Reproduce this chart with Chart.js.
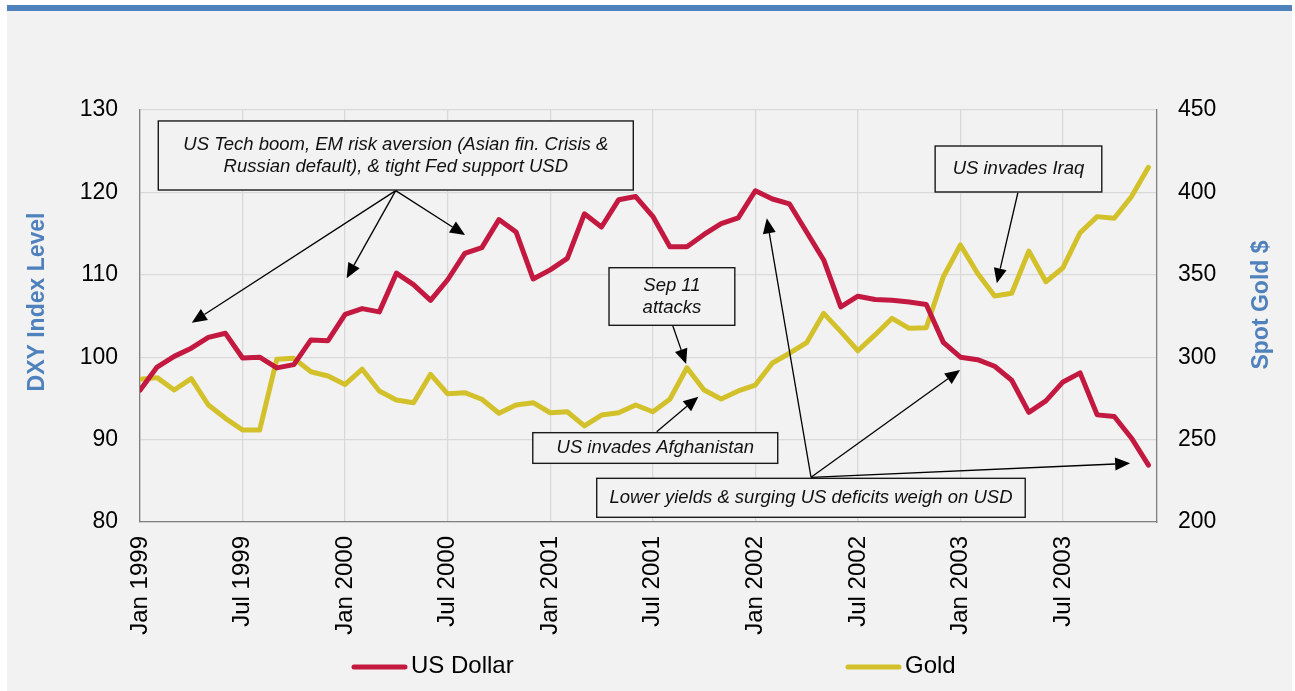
<!DOCTYPE html>
<html><head><meta charset="utf-8">
<script src="https://cdn.jsdelivr.net/npm/chart.js@4.4.1/dist/chart.umd.min.js"></script>
<style>
html,body{margin:0;padding:0;background:#fff;width:1295px;height:691px;overflow:hidden}
#bg{position:absolute;left:7px;top:5px;width:1285px;height:686px;background:#f2f2f2;border-top:6px solid #4f81bd;box-sizing:border-box}
#c{position:absolute;left:0;top:0}
</style></head><body><div id="bg"></div><canvas id="c" width="1295" height="691"></canvas>
<script>
const months = [
 "Jan 1999","Feb 1999","Mar 1999","Apr 1999","May 1999","Jun 1999","Jul 1999","Aug 1999","Sep 1999","Oct 1999","Nov 1999","Dec 1999",
 "Jan 2000","Feb 2000","Mar 2000","Apr 2000","May 2000","Jun 2000","Jul 2000","Aug 2000","Sep 2000","Oct 2000","Nov 2000","Dec 2000",
 "Jan 2001","Feb 2001","Mar 2001","Apr 2001","May 2001","Jun 2001","Jul 2001","Aug 2001","Sep 2001","Oct 2001","Nov 2001","Dec 2001",
 "Jan 2002","Feb 2002","Mar 2002","Apr 2002","May 2002","Jun 2002","Jul 2002","Aug 2002","Sep 2002","Oct 2002","Nov 2002","Dec 2002",
 "Jan 2003","Feb 2003","Mar 2003","Apr 2003","May 2003","Jun 2003","Jul 2003","Aug 2003","Sep 2003","Oct 2003","Nov 2003","Dec 2003"
];
const tickLabels = ["Jan 1999","Jul 1999","Jan 2000","Jul 2000","Jan 2001","Jul 2001","Jan 2002","Jul 2002","Jan 2003","Jul 2003"];
const usDollar = [96.0, 98.8, 100.1, 101.1, 102.4, 102.9, 99.9, 100.0, 98.7, 99.1,
 102.1, 102.0, 105.2, 105.9, 105.5, 110.2, 108.8, 106.9, 109.4, 112.6,
 113.3, 116.7, 115.2, 109.5, 110.6, 112.0, 117.4, 115.8, 119.1, 119.5,
 117.1, 113.4, 113.4, 114.9, 116.2, 116.9, 120.2, 119.2, 118.6, 115.2,
 111.8, 106.1, 107.4, 107.0, 106.9, 106.7, 106.4, 101.8, 100.0, 99.7,
 98.9, 97.2, 93.3, 94.7, 97.0, 98.1, 93.0, 92.8, 90.2, 86.9];
const gold = [286.6, 287.6, 280.1, 287.0, 271.0, 262.9, 255.8, 255.8, 298.7, 299.3,
 291.2, 288.6, 283.5, 292.7, 279.5, 274.0, 272.4, 289.6, 277.8, 278.5,
 274.5, 266.0, 271.0, 272.4, 266.3, 266.9, 258.3, 264.9, 266.3, 271.0,
 266.9, 274.5, 293.6, 280.1, 274.6, 279.5, 283.1, 296.5, 302.4, 308.8,
 326.6, 315.5, 303.9, 313.5, 323.6, 317.5, 317.9, 348.8, 368.1, 350.9,
 337.1, 338.8, 364.4, 345.8, 354.3, 375.5, 385.3, 384.3, 397.4, 415.2];

// annotations in data units: x = month index, y = DXY level
const notes = [
 {lines:["US Tech boom, EM risk aversion (Asian fin. Crisis &","Russian default), & tight Fed support USD"],
  box:[1.07,128.67,28.86,120.29], tail:[14.96,120.21], tips:[[3.03,104.19],[12.09,109.58],[19.02,114.83]]},
 {lines:["Sep 11","attacks"], box:[27.44,110.86,34.80,103.87], tail:[31.16,103.87], tips:[[31.95,99.17]]},
 {lines:["US invades Afghanistan"], box:[22.98,90.84,37.31,87.12], tail:[30.23,90.96], tips:[[32.67,95.21]]},
 {lines:["Lower yields & surging US deficits weigh on USD"], box:[26.72,85.30,51.79,80.57], tail:[39.26,85.42],
  tips:[[36.67,116.86],[47.98,98.45],[57.93,87.12]]},
 {lines:["US invades Iraq"], box:[46.52,125.63,56.27,120.05], tail:[51.36,119.96], tips:[[50.13,108.97]]}
];

const RED = '#c3183f', GOLD = '#d3c12c', BLUE = '#4f81bd';
const FONT = '"Liberation Sans", Arial, sans-serif';

function arrow(ctx,x0,y0,x1,y1){
  const a=Math.atan2(y1-y0,x1-x0), L=15, W=6.5;
  const bx=x1-L*Math.cos(a), by=y1-L*Math.sin(a);
  ctx.beginPath(); ctx.moveTo(x0,y0); ctx.lineTo(bx,by);
  ctx.lineWidth=1.3; ctx.strokeStyle='#000'; ctx.stroke();
  ctx.beginPath(); ctx.moveTo(x1,y1);
  ctx.lineTo(bx - W*Math.sin(a), by + W*Math.cos(a));
  ctx.lineTo(bx + W*Math.sin(a), by - W*Math.cos(a));
  ctx.closePath(); ctx.fillStyle='#000'; ctx.fill();
}

const overlay = {
  id:'overlay',
  afterDatasetsDraw(chart){
    const ctx = chart.ctx, xs = chart.scales.x, ys = chart.scales.y;
    const X = v=>xs.getPixelForValue(v), Y = v=>ys.getPixelForValue(v);
    ctx.save();
    notes.forEach(n=>{
      n.tips.forEach(t=>arrow(ctx, X(n.tail[0]), Y(n.tail[1]), X(t[0]), Y(t[1])));
    });
    notes.forEach(n=>{
      const x1=X(n.box[0]), y1=Y(n.box[1]), x2=X(n.box[2]), y2=Y(n.box[3]);
      ctx.fillStyle='#f2f2f2'; ctx.fillRect(x1,y1,x2-x1,y2-y1);
      ctx.lineWidth=1.4; ctx.strokeStyle='#1a1a1a'; ctx.strokeRect(x1,y1,x2-x1,y2-y1);
      ctx.fillStyle='#111'; ctx.font='italic 18.5px '+FONT; ctx.textAlign='center'; ctx.textBaseline='middle';
      const cx=(x1+x2)/2, cy=(y1+y2)/2, lh=21.8;
      n.lines.forEach((s,i)=>ctx.fillText(s, cx, cy + (i-(n.lines.length-1)/2)*lh));
    });
    ctx.restore();
  },
  afterDraw(chart){
    const ctx = chart.ctx;
    ctx.save();
    ctx.font='bold 23px '+FONT; ctx.fillStyle=BLUE; ctx.textAlign='center'; ctx.textBaseline='middle';
    ctx.translate(38,302); ctx.rotate(-Math.PI/2); ctx.fillText('DXY Index Level',0,0);
    ctx.setTransform(1,0,0,1,0,0);
    ctx.translate(1262,305); ctx.rotate(-Math.PI/2); ctx.fillText('Spot Gold $',0,0);
    ctx.setTransform(1,0,0,1,0,0);
    // legend
    const items=[{t:chart.data.datasets[0].label,c:RED,x:352},{t:chart.data.datasets[1].label,c:GOLD,x:846}];
    items.forEach(it=>{
      ctx.beginPath(); ctx.moveTo(it.x+2,667); ctx.lineTo(it.x+53,667);
      ctx.lineWidth=5; ctx.lineCap='round'; ctx.strokeStyle=it.c; ctx.stroke();
      ctx.font='24px '+FONT; ctx.fillStyle='#000'; ctx.textAlign='left'; ctx.textBaseline='middle';
      ctx.fillText(it.t, it.x+59, 666);
    });
    ctx.restore();
  }
};

const tickIdx = tickLabels.map(l=>months.indexOf(l));

new Chart(document.getElementById('c'), {
  type:'line',
  data:{datasets:[
    {label:'US Dollar', data:usDollar.map((v,i)=>({x:i,y:v})), yAxisID:'y', borderColor:RED, backgroundColor:RED,
     borderWidth:5, pointRadius:0, tension:0, borderJoinStyle:'round', borderCapStyle:'round'},
    {label:'Gold', data:gold.map((v,i)=>({x:i,y:v})), yAxisID:'y2', borderColor:GOLD, backgroundColor:GOLD,
     borderWidth:5, pointRadius:0, tension:0, borderJoinStyle:'round', borderCapStyle:'round'}
  ]},
  options:{
    responsive:false, animation:false, devicePixelRatio:1,
    layout:{padding:{top:110,left:0,right:0,bottom:0}},
    plugins:{legend:{display:false}, tooltip:{enabled:false}},
    scales:{
      x:{type:'linear', min:0, max:59.5,
         afterBuildTicks:s=>{s.ticks=tickIdx.map(v=>({value:v}));},
         afterFit:s=>{s.height=169;},
         grid:{color:'#d9d9d9', lineWidth:1.3, drawTicks:false},
         border:{color:'#7f7f7f', width:1.3},
         ticks:{autoSkip:false, minRotation:90, maxRotation:90, padding:14, color:'#000',
                font:{family:'"Liberation Sans", Arial, sans-serif', size:24},
                callback:v=>months[v] ?? ''}},
      y:{position:'left', min:80, max:130,
         afterFit:s=>{s.width=140;},
         grid:{color:'#d9d9d9', lineWidth:1.3, drawTicks:false},
         border:{color:'#7f7f7f', width:1.3},
         ticks:{stepSize:10, padding:22, color:'#000', font:{family:'"Liberation Sans", Arial, sans-serif', size:23}}},
      y2:{position:'right', min:200, max:450,
         afterFit:s=>{s.width=138;},
         grid:{drawOnChartArea:false, drawTicks:false},
         border:{color:'#7f7f7f', width:1.3},
         ticks:{stepSize:50, padding:21, color:'#000', font:{family:'"Liberation Sans", Arial, sans-serif', size:23}}}
    }
  },
  plugins:[overlay]
});
</script></body></html>
